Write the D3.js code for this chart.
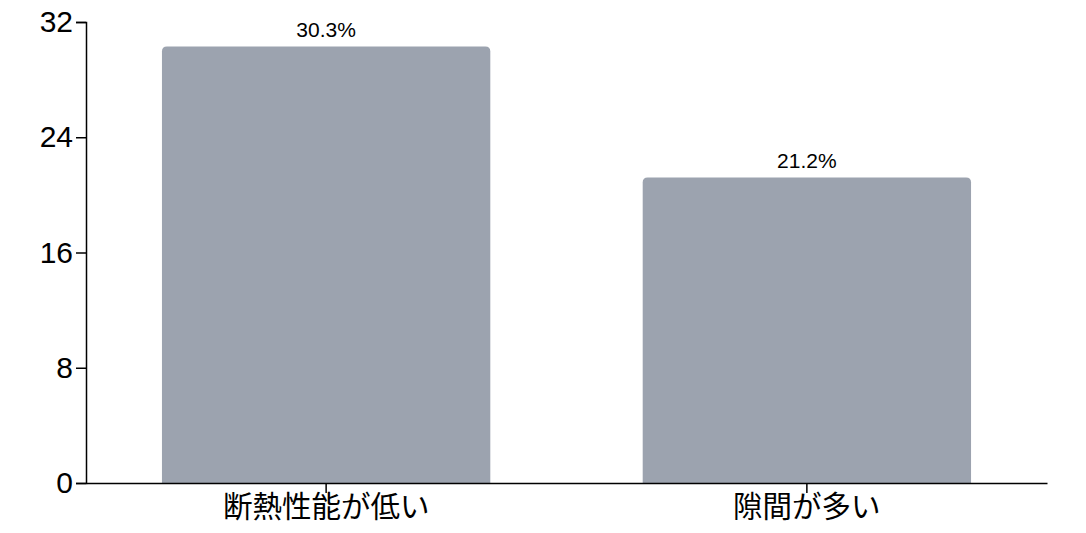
<!DOCTYPE html>
<html>
<head>
<meta charset="utf-8">
<script src="https://cdn.jsdelivr.net/npm/d3@7"></script>
<style>
  body { margin: 0; background: #fff; }
  svg { display: block; font-family: "Liberation Sans", "Noto Sans CJK JP", sans-serif; }
</style>
</head>
<body>
<svg width="1086" height="533"></svg>
<script>
const categories = ["断熱性能が低い", "隙間が多い"];
const values = [30.3, 21.2];
const yTicks = [0, 8, 16, 24, 32];

const margin = {top: 22, right: 39, bottom: 50, left: 86};
const width = 1086 - margin.left - margin.right;
const height = 533 - margin.top - margin.bottom;

const svg = d3.select("svg");
const g = svg.append("g").attr("transform", `translate(${margin.left},${margin.top})`);

const x = d3.scaleBand()
  .domain(categories)
  .range([0, width])
  .paddingInner(0.317)
  .paddingOuter(0.158);

const y = d3.scaleLinear().domain([0, 32]).range([height, 0]);

const data = categories.map((c, i) => ({name: c, value: values[i]}));

// bars with rounded top corners only
const r = 5;
g.selectAll(".bar")
  .data(data)
  .enter()
  .append("path")
  .attr("class", "bar")
  .attr("fill", "#9ca3af")
  .attr("d", d => {
    const x0 = x(d.name), x1 = x0 + x.bandwidth();
    const y0 = y(d.value), yb = y(0);
    return `M${x0},${yb}V${y0 + r}Q${x0},${y0} ${x0 + r},${y0}H${x1 - r}Q${x1},${y0} ${x1},${y0 + r}V${yb}Z`;
  });

g.selectAll(".val")
  .data(data)
  .enter()
  .append("text")
  .attr("class", "val")
  .attr("x", d => x(d.name) + x.bandwidth() / 2)
  .attr("y", d => y(d.value) - 10)
  .attr("text-anchor", "middle")
  .attr("font-size", 21)
  .attr("fill", "#000")
  .text(d => d.value.toFixed(1) + "%");

const yAxis = g.append("g")
  .call(d3.axisLeft(y).tickValues(yTicks).tickSize(10).tickPadding(3));
yAxis.selectAll("text").attr("font-size", 30).attr("fill", "#000").style("font-family", "Liberation Sans, sans-serif");

const xAxis = g.append("g")
  .attr("transform", `translate(0,${height})`)
  .call(d3.axisBottom(x).tickSize(10).tickSizeOuter(0).tickPadding(3));
xAxis.selectAll("text").attr("font-size", 29.5).attr("fill", "#000").style("font-family", "Noto Sans CJK JP, sans-serif");

svg.selectAll(".domain, .tick line").attr("stroke", "#000").attr("stroke-width", 1.5);
</script>
</body>
</html>
